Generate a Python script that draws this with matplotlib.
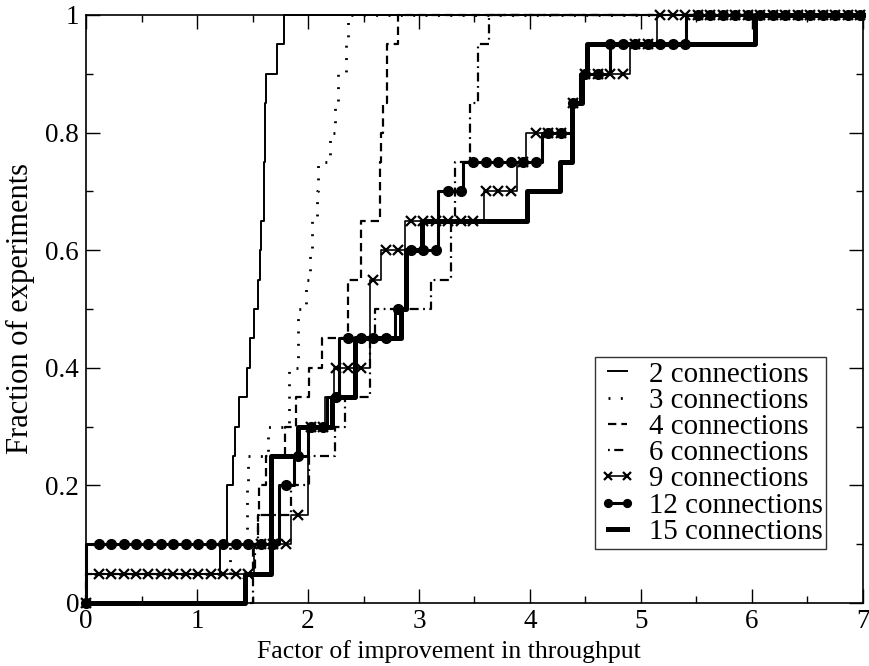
import numpy as np
import matplotlib
matplotlib.use("Agg")
import matplotlib.pyplot as plt

plt.rcParams['font.family'] = ['Liberation Serif', 'DejaVu Serif']
plt.rcParams['lines.scale_dashes'] = False

# sorted improvement factors, 20 experiments per series
conn2 = [0.0, 1.21, 1.27, 1.27, 1.32, 1.34, 1.38, 1.45, 1.48, 1.51,
         1.55, 1.57, 1.58, 1.60, 1.60, 1.61, 1.61, 1.62, 1.72, 1.78]
conn3 = [0.0, 1.30, 1.45, 1.45, 1.46, 1.64, 1.83, 1.83, 1.91, 1.91,
         1.98, 2.02, 2.04, 2.08, 2.09, 2.20, 2.24, 2.27, 2.34, 2.36]
conn4 = [0.0, 1.50, 1.55, 1.56, 1.62, 1.79, 1.89, 2.01, 2.13, 2.36,
         2.36, 2.48, 2.48, 2.65, 2.65, 2.66, 2.68, 2.71, 2.71, 2.81]
conn6 = [1.50, 1.52, 1.55, 1.85, 2.01, 2.24, 2.33, 2.56, 2.56, 2.60,
         3.11, 3.29, 3.29, 3.32, 3.32, 3.46, 3.46, 3.53, 3.53, 3.63]
conn9 = [0.0, 1.51, 1.85, 2.00, 2.00, 2.00, 2.15, 2.23, 2.56, 2.56,
         2.56, 2.66, 2.87, 3.59, 3.88, 3.96, 4.38, 4.45, 4.90, 5.14]
conn12 = [0.0, 0.0, 1.74, 1.74, 1.87, 2.00, 2.17, 2.28, 2.28, 2.78,
          2.88, 2.88, 3.17, 3.17, 3.40, 4.11, 4.38, 4.45, 4.72, 5.41]
conn15 = [1.43, 1.67, 1.67, 1.67, 1.67, 1.91, 2.22, 2.42, 2.42, 2.84,
          2.88, 2.88, 3.03, 3.97, 4.27, 4.38, 4.38, 4.47, 4.51, 6.03]

labels = ['2 connections', '3 connections', '4 connections', '6 connections',
          '9 connections', '12 connections', '15 connections']
series = [conn2, conn3, conn4, conn6, conn9, conn12, conn15]

styles = [
    dict(color='black', lw=1.4, ls='-'),
    dict(color='black', lw=2.0, ls=(0, (1.4, 7.5))),
    dict(color='black', lw=1.6, ls=(0, (6, 3.6))),
    dict(color='black', lw=1.6, ls=(0, (1.3, 3.2, 6.5, 3.2))),
    dict(color='black', lw=1.2, ls='-', marker='x', ms=6.5, mew=1.6),
    dict(color='black', lw=2.2, ls='-', marker='o', ms=7),
    dict(color='black', lw=3.6, ls='-'),
]

xmax = 7.0
grid_x = np.arange(0, 63) * 0.1125

fig = plt.figure(figsize=(8.7, 6.66), dpi=100)
ax = fig.add_axes([0.0989, 0.0946, 0.893, 0.8829])

handles = []
for vals, lab, st in zip(series, labels, styles):
    vals = np.array(vals)
    n = len(vals)
    xs = np.concatenate([[0.0], vals, [xmax]])
    ys = np.concatenate([[0.0], np.arange(1, n + 1) / n, [1.0]])
    marker = st.get('marker')
    ax.step(xs, ys, where='post', color=st['color'], lw=st['lw'],
            ls=st['ls'], clip_on=False, zorder=3)
    if marker:
        # symbols sit on a regular x grid along the step curve
        my = np.searchsorted(vals, grid_x, side='left') / n
        ax.plot(grid_x, my, ls='none', marker=marker, ms=st['ms'],
                mew=st.get('mew', 1.0), color=st['color'], clip_on=False,
                zorder=4)
    h, = ax.plot([], [], color=st['color'], lw=st['lw'], ls=st['ls'],
                 marker=marker, ms=st.get('ms', 0) * 0.8,
                 mew=st.get('mew', 1.0))
    handles.append(h)

ax.set_xlim(0, 7)
ax.set_ylim(0, 1)
ax.set_xticks(np.arange(0, 8, 1))
ax.set_xticks(np.arange(0, 7.01, 0.5), minor=True)
ax.set_yticks([0, 0.2, 0.4, 0.6, 0.8, 1.0])
ax.set_yticklabels(['0', '0.2', '0.4', '0.6', '0.8', '1'])
ax.set_yticks(np.arange(0, 1.01, 0.1), minor=True)
ax.tick_params(which='both', direction='in', top=True, right=True,
               labelsize=19.5, width=1.0)
ax.tick_params(which='major', length=10, pad=4)
ax.tick_params(axis='y', which='major', pad=5)
ax.tick_params(which='minor', length=5)
for sp in ax.spines.values():
    sp.set_linewidth(1.2)

ax.set_xlabel('Factor of improvement in throughput', fontsize=18.5)
ax.xaxis.set_label_coords(0.467, -0.063)
ax.set_ylabel('Fraction of experiments', fontsize=22)
ax.yaxis.set_label_coords(-0.066, 0.5)

leg = ax.legend(handles, labels, loc='lower right',
                bbox_to_anchor=(0.953, 0.092), borderaxespad=0,
                fontsize=20.8, frameon=True, fancybox=False,
                edgecolor='black', handlelength=1.25, handletextpad=0.45,
                labelspacing=0.0, borderpad=0.14, numpoints=2)
leg.get_frame().set_linewidth(1.0)

fig.savefig('out.png', dpi=100)
